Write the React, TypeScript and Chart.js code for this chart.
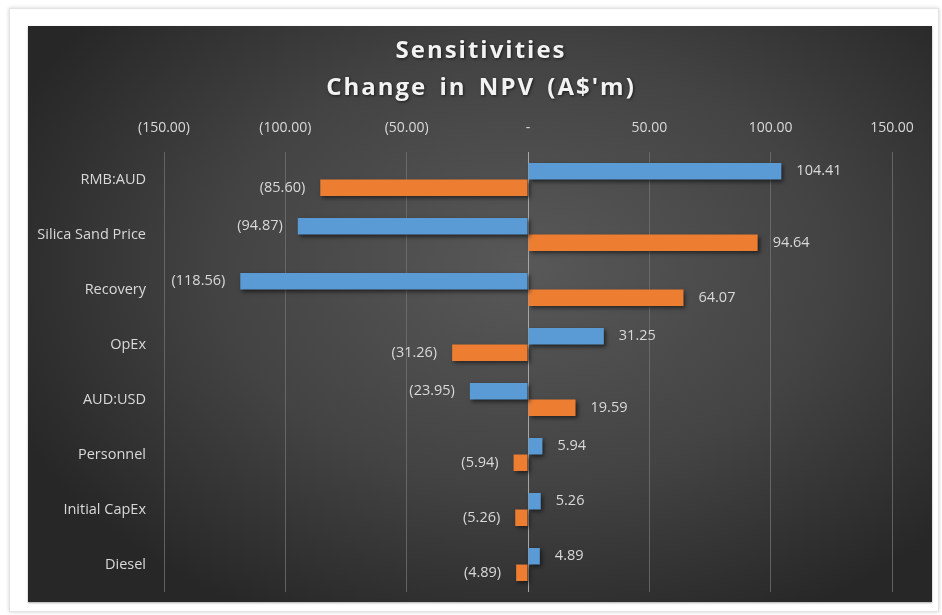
import React, { useEffect, useRef } from "react";
import { Chart, registerables } from "chart.js";

Chart.register(...registerables);

const categories = ["RMB:AUD", "Silica Sand Price", "Recovery", "OpEx", "AUD:USD", "Personnel", "Initial CapEx", "Diesel"];
const upsideValues = [104.41, -94.87, -118.56, 31.25, -23.95, 5.94, 5.26, 4.89];
const downsideValues = [-85.6, 94.64, 64.07, -31.26, 19.59, -5.94, -5.26, -4.89];
const titleLines = ["Sensitivities", "Change in NPV (A$'m)"];
const axisMin = -150;
const axisMax = 150;
const axisStep = 50;

const FONT = "'Open Sans', 'DejaVu Sans', sans-serif";
const TEXT = "#d9d9d9";

function fmt(v: number): string {
  if (Math.abs(v) < 1e-9) return "-";
  const s = Math.abs(v).toFixed(2);
  return v < 0 ? `(${s})` : s;
}

const bgPlugin = {
  id: "bgGradient",
  beforeDraw(chart: any) {
    const { ctx, width, height } = chart;
    ctx.save();
    ctx.translate(width * 0.55, height * 0.42);
    ctx.scale(1, (height / width) * 1.1);
    const r = width * 0.62;
    const g = ctx.createRadialGradient(0, 0, 0, 0, 0, r);
    g.addColorStop(0, "#585858");
    g.addColorStop(0.55, "#434343");
    g.addColorStop(1, "#272727");
    ctx.fillStyle = g;
    ctx.fillRect(-width, -width, width * 2, width * 2);
    ctx.restore();
  },
};

const titlePlugin = {
  id: "spacedTitle",
  afterDraw(chart: any) {
    const ctx = chart.ctx;
    ctx.save();
    ctx.font = `bold 24px ${FONT}`;
    ctx.fillStyle = "#f2f2f2";
    ctx.textAlign = "center";
    ctx.textBaseline = "middle";
    try {
      ctx.letterSpacing = "2px";
      ctx.wordSpacing = "4px";
    } catch (e) {}
    ctx.shadowColor = "rgba(0,0,0,0.6)";
    ctx.shadowBlur = 3;
    ctx.shadowOffsetX = 1;
    ctx.shadowOffsetY = 1;
    const cx = chart.width / 2 + 1;
    ctx.fillText(titleLines[0], cx, 25);
    ctx.fillText(titleLines[1], cx, 62);
    ctx.restore();
  },
};

const shadowPlugin = {
  id: "barShadow",
  beforeDatasetsDraw(chart: any) {
    const ctx = chart.ctx;
    ctx.save();
    ctx.shadowColor = "rgba(0,0,0,0.55)";
    ctx.shadowBlur = 4;
    ctx.shadowOffsetX = 2;
    ctx.shadowOffsetY = 2;
  },
  afterDatasetsDraw(chart: any) {
    chart.ctx.restore();
  },
};

const labelPlugin = {
  id: "valueLabels",
  afterDatasetsDraw(chart: any) {
    const ctx = chart.ctx;
    ctx.save();
    ctx.font = `14.5px ${FONT}`;
    ctx.fillStyle = TEXT;
    ctx.textBaseline = "middle";
    chart.data.datasets.forEach((ds: any, di: number) => {
      const meta = chart.getDatasetMeta(di);
      meta.data.forEach((bar: any, i: number) => {
        const v = ds.data[i] as number;
        const gap = 15;
        if (v >= 0) {
          ctx.textAlign = "left";
          ctx.fillText(fmt(v), bar.x + gap, bar.y);
        } else {
          ctx.textAlign = "right";
          ctx.fillText(fmt(v), bar.x - gap, bar.y);
        }
      });
    });
    ctx.restore();
  },
};

export default function App() {
  const ref = useRef<HTMLCanvasElement | null>(null);

  useEffect(() => {
    if (!ref.current) return;
    const chart = new Chart(ref.current, {
      type: "bar",
      data: {
        labels: categories,
        datasets: [
          {
            label: "Upside",
            data: upsideValues,
            backgroundColor: "#5b9bd5",
            borderWidth: 0,
            categoryPercentage: 0.6,
            barPercentage: 1.0,
          },
          {
            label: "Downside",
            data: downsideValues,
            backgroundColor: "#ed7d31",
            borderWidth: 0,
            categoryPercentage: 0.6,
            barPercentage: 1.0,
          },
        ],
      },
      options: {
        indexAxis: "y",
        responsive: false,
        animation: false,
        layout: { padding: { top: 80, left: 0, right: 40, bottom: 10 } },
        plugins: {
          legend: { display: false },
          tooltip: { enabled: false },
          title: { display: false },
        },
        scales: {
          x: {
            position: "top",
            min: axisMin,
            max: axisMax,
            ticks: {
              stepSize: axisStep,
              color: TEXT,
              font: { family: FONT, size: 14 },
              padding: 16,
              callback: (v: any) => fmt(Number(v)),
            },
            grid: {
              drawTicks: false,
              color: (c: any) => (c.tick && c.tick.value === 0 ? "#a6a6a6" : "rgba(115,115,115,0.75)"),
              lineWidth: 1,
            },
            border: { display: false },
            afterFit: (s: any) => {
              s.height = 46;
            },
          },
          y: {
            ticks: {
              color: TEXT,
              font: { family: FONT, size: 14.5 },
              padding: 18,
            },
            grid: { display: false, drawTicks: false },
            border: { display: false },
            afterFit: (s: any) => {
              s.width = 136;
              s.paddingTop = 0;
              s.paddingBottom = 0;
            },
          },
        },
      },
      plugins: [bgPlugin, shadowPlugin, labelPlugin, titlePlugin],
    } as any);
    return () => chart.destroy();
  }, []);

  return (
    <div
      style={{
        position: "absolute",
        left: 0,
        top: 0,
        width: 942,
        height: 615,
        background: "#ffffff",
        overflow: "hidden",
      }}
    >
      <div
        style={{
          position: "absolute",
          left: 9,
          top: 8,
          width: 928,
          height: 602,
          border: "1px solid #e3e3e3",
          boxShadow: "0 0 4px rgba(0,0,0,0.18)",
          background: "#ffffff",
        }}
      />
      <canvas
        ref={ref}
        width={904}
        height={576}
        style={{ position: "absolute", left: 28, top: 26, width: 904, height: 576, boxShadow: "0 1px 2px rgba(0,0,0,0.35)" }}
      />
    </div>
  );
}
